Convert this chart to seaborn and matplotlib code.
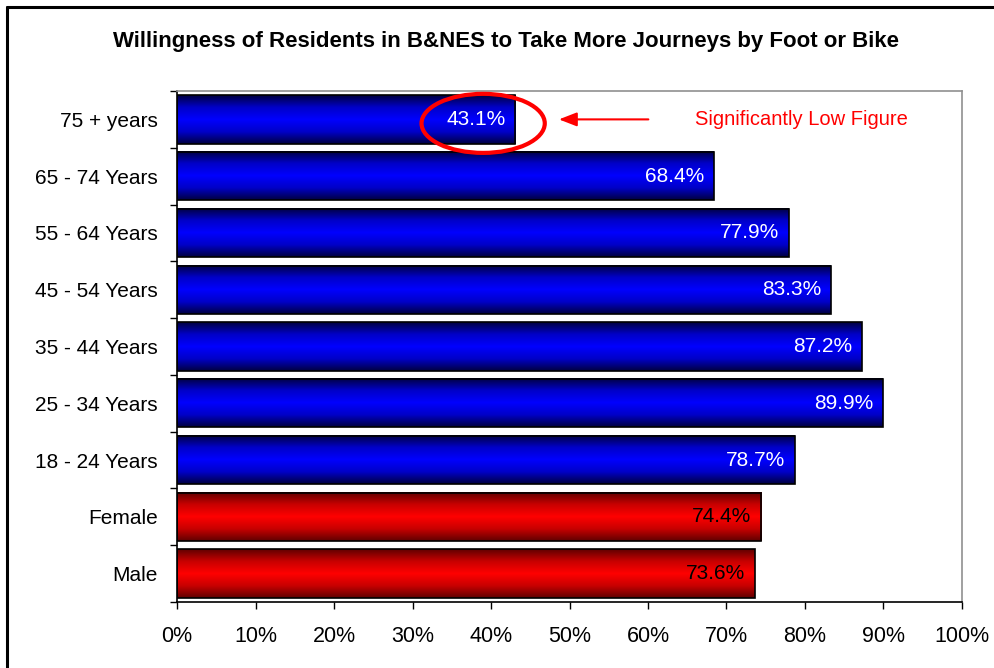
import numpy as np
import pandas as pd
import matplotlib
matplotlib.use("Agg")
import matplotlib.pyplot as plt
import seaborn as sns
from matplotlib.patches import Ellipse
from matplotlib.lines import Line2D
from matplotlib.colors import LinearSegmentedColormap

categories = ["75 + years", "65 - 74 Years", "55 - 64 Years", "45 - 54 Years",
              "35 - 44 Years", "25 - 34 Years", "18 - 24 Years", "Female", "Male"]
values = [43.1, 68.4, 77.9, 83.3, 87.2, 89.9, 78.7, 74.4, 73.6]
groups = ["age"] * 7 + ["gender"] * 2
x_ticks = list(range(0, 101, 10))
title = "Willingness of Residents in B&NES to Take More Journeys by Foot or Bike"
callout = "Significantly Low Figure"

df = pd.DataFrame({"category": categories, "value": values, "group": groups})

sns.set_theme(style="white")
plt.rcParams["font.family"] = ["Liberation Sans", "DejaVu Sans"]
plt.rcParams["text.color"] = "black"
plt.rcParams["xtick.color"] = "black"
plt.rcParams["ytick.color"] = "black"
plt.rcParams["xtick.labelcolor"] = "black"
plt.rcParams["ytick.labelcolor"] = "black"

fig = plt.figure(figsize=(9.95, 6.68), dpi=100)
ax = fig.add_axes([177 / 995, 66 / 668, 785 / 995, 511 / 668])

sns.barplot(data=df, x="value", y="category", hue="group",
            palette={"age": "#0000ff", "gender": "#ff0000"},
            dodge=False, legend=False, width=0.85, ax=ax,
            edgecolor="black", linewidth=1.2)

# shaded (cylinder-like) fill for every bar
ramps = {
    "age": LinearSegmentedColormap.from_list("b", ["#000040", "#0000c8", "#0000ff", "#0000c8", "#000040"]),
    "gender": LinearSegmentedColormap.from_list("r", ["#600000", "#c80000", "#ff0000", "#c80000", "#600000"]),
}
grad = np.linspace(0, 1, 256).reshape(-1, 1)
xlim, ylim = (0, 100), (len(categories) - 0.5, -0.5)
bars = sorted(ax.patches, key=lambda p: p.get_y())
for patch, grp in zip(bars, groups):
    x0, y0 = patch.get_x(), patch.get_y()
    w, h = patch.get_width(), patch.get_height()
    ax.imshow(grad, cmap=ramps[grp], extent=[x0, x0 + w, y0 + h, y0],
              aspect="auto", zorder=patch.get_zorder() - 0.1, interpolation="bilinear")
    patch.set_facecolor("none")

# value labels inside each bar
for patch, v, grp in zip(bars, values, groups):
    ax.annotate(f"{v:.1f}%", xy=(patch.get_x() + patch.get_width(), patch.get_y() + patch.get_height() / 2),
                xytext=(-7, 0), textcoords="offset points", ha="right", va="center",
                fontsize=15, color="white" if grp == "age" else "black", zorder=5)

ax.set_xlim(*xlim)
ax.set_ylim(*ylim)
ax.set_xlabel("")
ax.set_ylabel("")
ax.set_xticks(x_ticks)
ax.set_xticklabels([f"{t}%" for t in x_ticks], fontsize=15.5)
ax.set_yticks(range(len(categories)))
ax.set_yticklabels(categories, fontsize=15)
ax.tick_params(axis="y", which="major", length=0, pad=14)
ax.set_yticks(np.arange(-0.5, len(categories), 1), minor=True)
ax.tick_params(axis="y", which="minor", length=5, width=1, color="black", direction="out", left=True)
ax.tick_params(axis="x", length=5, width=1, color="black", direction="out", bottom=True, pad=12)

for side in ["left", "bottom"]:
    ax.spines[side].set_color("black")
    ax.spines[side].set_linewidth(1.2)
for side in ["top", "right"]:
    ax.spines[side].set_color("#909090")
    ax.spines[side].set_linewidth(1.2)

# call-out on the low figure
ax.add_patch(Ellipse((39.0, 0.07), 15.7, 1.04, fill=False, edgecolor="#ff0000", linewidth=3, zorder=6))
ax.annotate("", xy=(48.3, 0.0), xytext=(60.4, 0.0),
            arrowprops=dict(arrowstyle="-|>,head_length=0.9,head_width=0.35", color="#ff0000", lw=1.5),
            zorder=6)
ax.text(66.0, 0.0, callout, color="#ff0000", fontsize=14.5, va="center", ha="left")

fig.text(506 / 995, 1 - 42 / 668, title, ha="center", va="center", fontsize=16, fontweight="bold")

# outer frame
fig.add_artist(Line2D([7 / 995, 1.0], [1 - 7 / 668, 1 - 7 / 668], color="black", lw=2.2))
fig.add_artist(Line2D([7 / 995, 7 / 995], [0.0, 1 - 7 / 668], color="black", lw=2.2))

fig.savefig("out.png", dpi=100)
